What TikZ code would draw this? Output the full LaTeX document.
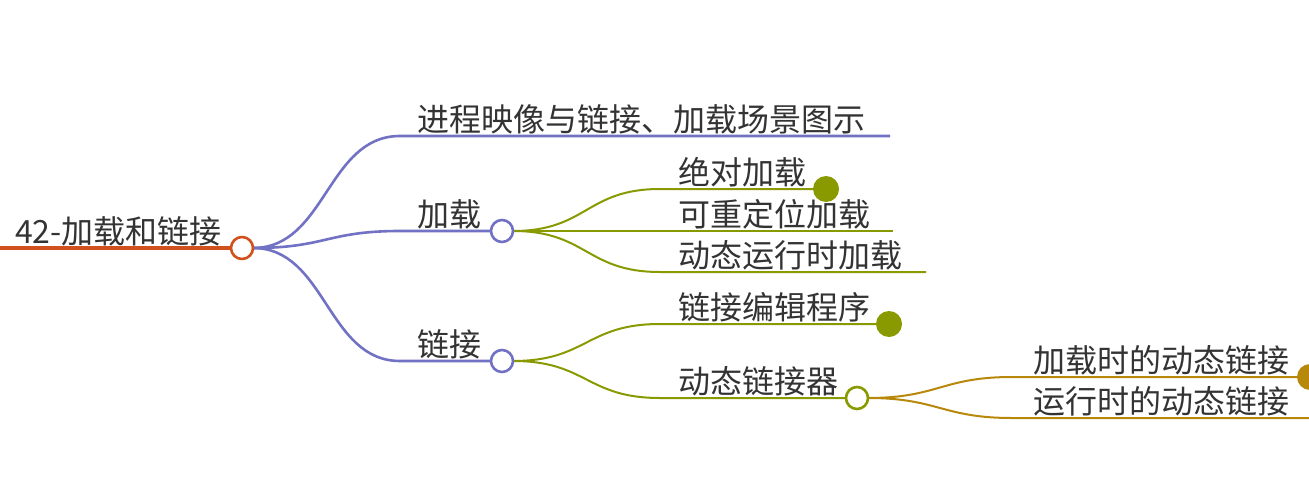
\documentclass[tikz,border=0pt]{standalone}
\usepackage{fontspec}
\newfontfamily\cjk{Noto Sans CJK SC}
\definecolor{rootc}{HTML}{D0501E}
\definecolor{bluec}{HTML}{7272C4}
\definecolor{greenc}{HTML}{889A00}
\definecolor{goldc}{HTML}{B8880A}
\definecolor{txtc}{HTML}{333333}
\tikzset{
  lbl/.style={anchor=base west, inner sep=0pt, text=txtc, font=\cjk\fontsize{32}{38}\selectfont},
  hollow/.style={circle, minimum size=22pt, inner sep=0pt, line width=2.6pt, fill=white, draw=#1},
  solid dot/.style={circle, minimum size=26pt, inner sep=0pt, fill=#1},
  rootline/.style={draw=rootc, line width=4pt},
  l1/.style={draw=bluec, line width=2.6pt},
  l2/.style={draw=greenc, line width=2pt},
  l3/.style={draw=goldc, line width=2pt},
}
\begin{document}
\begin{tikzpicture}[x=1pt,y=-1pt]
\useasboundingbox (0,0) rectangle (1309,503);
% coordinates
\coordinate (r0) at (0,248);
\coordinate (root) at (242,248);
% level 1
\coordinate (a0) at (400,136); \coordinate (a1) at (890,136);
\coordinate (b0) at (400,231); \coordinate (bc) at (502,231);
\coordinate (c0) at (400,361); \coordinate (cc) at (502,361);
% level 2 under b
\coordinate (d0) at (660,189); \coordinate (dd) at (826,189);
\coordinate (e0) at (660,231); \coordinate (e1) at (893,231);
\coordinate (f0) at (660,272); \coordinate (f1) at (926,272);
% level 2 under c
\coordinate (g0) at (660,324); \coordinate (gd) at (889,324);
\coordinate (h0) at (660,398); \coordinate (hc) at (857,398);
% level 3
\coordinate (i0) at (1012,377); \coordinate (id) at (1310,377);
\coordinate (j0) at (1012,418); \coordinate (j1) at (1309,418);

% root line
\draw[rootline] (r0) -- (root);
% level 1 connectors
\draw[l1] (root) ++(11,0) coordinate (rs) .. controls +(73,0) and +(-73,0) .. (a0) -- (a1);
\draw[l1] (rs) .. controls +(73,0) and +(-73,0) .. (b0) -- (bc);
\draw[l1] (rs) .. controls +(73,0) and +(-73,0) .. (c0) -- (cc);
% level 2 connectors
\draw[l2] (bc) ++(11,0) coordinate (bs) .. controls +(74,0) and +(-74,0) .. (d0) -- (dd);
\draw[l2] (bs) .. controls +(74,0) and +(-74,0) .. (e0) -- (e1);
\draw[l2] (bs) .. controls +(74,0) and +(-74,0) .. (f0) -- (f1);
\draw[l2] (cc) ++(11,0) coordinate (cs) .. controls +(74,0) and +(-74,0) .. (g0) -- (gd);
\draw[l2] (cs) .. controls +(74,0) and +(-74,0) .. (h0) -- (hc);
% level 3 connectors
\draw[l3] (hc) ++(11,0) coordinate (hs) .. controls +(70,0) and +(-70,0) .. (i0) -- (id);
\draw[l3] (hs) .. controls +(70,0) and +(-70,0) .. (j0) -- (j1);

% circles and dots
\node[hollow=rootc] (rootn) at (root) {};
\node[hollow=bluec] (bn) at (bc) {};
\node[hollow=bluec] (cn) at (cc) {};
\node[hollow=greenc] (hn) at (hc) {};
\node[solid dot=greenc] (dn) at (dd) {};
\node[solid dot=greenc] (gn) at (gd) {};
\node[solid dot=goldc] (in) at (id) {};

% labels
\node[lbl] (rootlbl) at (15,243) {42-加载和链接};
\node[lbl] (alb) at (417,131) {进程映像与链接、加载场景图示};
\node[lbl] (blb) at (417,226) {加载};
\node[lbl] (clb) at (417,356) {链接};
\node[lbl] (dlb) at (678,184) {绝对加载};
\node[lbl] (elb) at (678,226) {可重定位加载};
\node[lbl] (flb) at (678,267) {动态运行时加载};
\node[lbl] (glb) at (678,319) {链接编辑程序};
\node[lbl] (hlb) at (678,393) {动态链接器};
\node[lbl] (ilb) at (1033,372) {加载时的动态链接};
\node[lbl] (jlb) at (1033,413) {运行时的动态链接};
\end{tikzpicture}
\end{document}
